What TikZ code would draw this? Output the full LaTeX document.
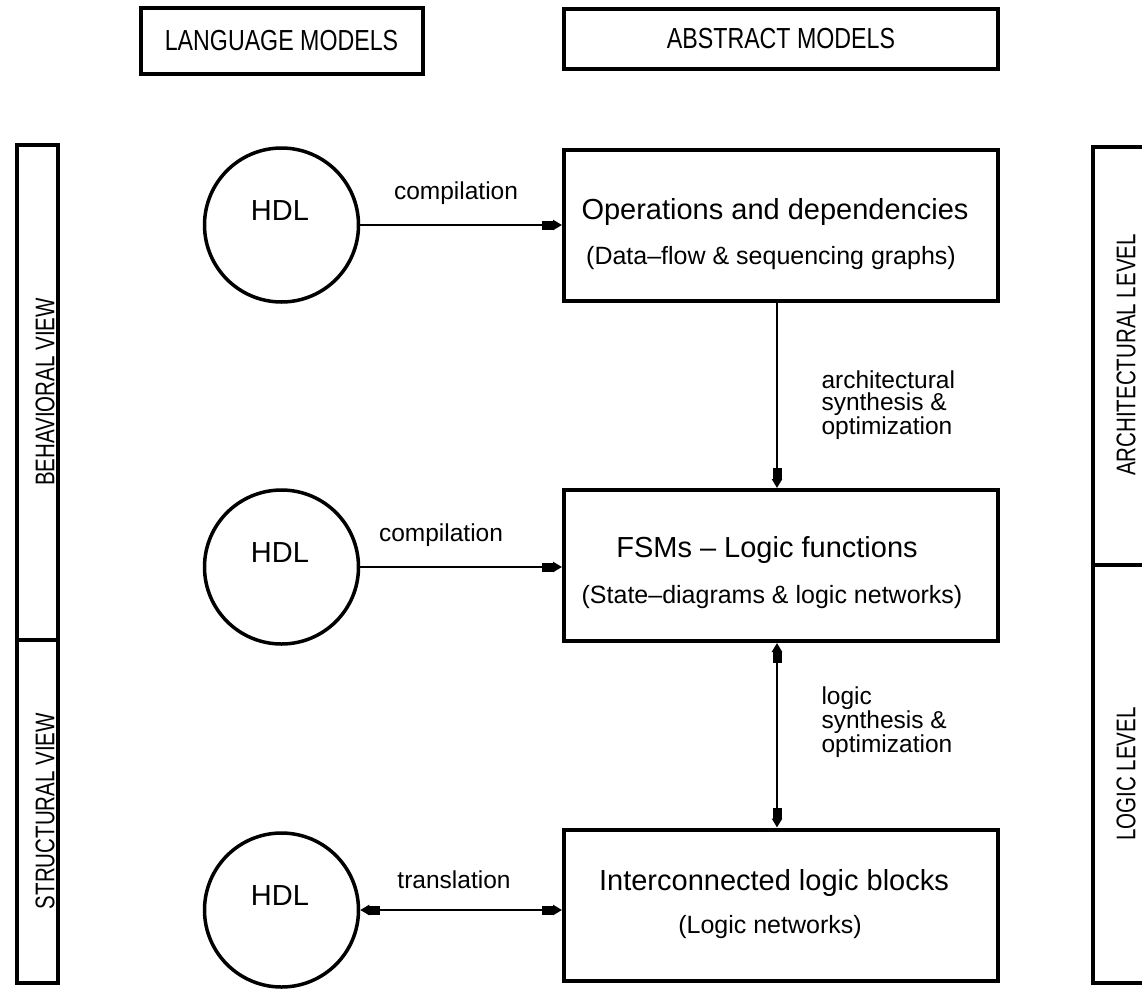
\documentclass[tikz,border=0pt]{standalone}
\usepackage{fontspec}
\setmainfont{Liberation Sans}
\newfontfamily\headfont[FakeStretch=0.8]{Liberation Sans}
\newfontfamily\bandfont[FakeStretch=0.76]{Liberation Sans}
\usetikzlibrary{arrows.meta}

\begin{document}
\begin{tikzpicture}[x=1pt,y=-1pt,
  boxline/.style={draw, line width=4pt},
  heading/.style={boxline, inner sep=0pt, font=\headfont\fontsize{29}{32}\selectfont},
  block/.style={boxline, minimum width=434pt, minimum height=151pt, inner sep=0pt},
  hdl/.style={circle, draw, line width=3.5pt, minimum size=154pt, inner sep=0pt},
  maintext/.style={font=\fontsize{29}{32}\selectfont},
  subtext/.style={font=\fontsize{25}{28}\selectfont},
  lbl/.style={font=\fontsize{24.5}{22.5}\selectfont, align=left},
  sidetext/.style={rotate=90, font=\bandfont\fontsize{27}{28}\selectfont},
  conn/.style={line width=2.3pt},
  blk/.tip={Rectangle[length=11pt,width=9pt] Triangle[length=9pt,width=10pt]},
  onehead/.style={conn, -{blk}},
  twoheads/.style={conn, {blk}-{blk}},
]
\useasboundingbox (0,0) rectangle (1142,988);
\clip (0,0) rectangle (1142,988);

% column headings
\node[heading, minimum width=282pt, minimum height=66pt] (lang) at (281.5,41) {LANGUAGE MODELS};
\node[heading, minimum width=434pt, minimum height=60pt] (abst) at (781,39) {ABSTRACT MODELS};

% side bands: views on the left, levels on the right
\draw[boxline] (17,145) rectangle (58,983);
\draw[line width=4pt] (17,640) -- (58,640);
\node[sidetext] (behav) at (45,392) {BEHAVIORAL VIEW};
\node[sidetext] (struct) at (45,811) {STRUCTURAL VIEW};

\draw[boxline] (1093,147) rectangle (1170,983);
\draw[line width=4pt] (1093,565) -- (1170,565);
\node[sidetext] (arch) at (1126,355) {ARCHITECTURAL LEVEL};
\node[sidetext] (logiclvl) at (1126,774) {LOGIC LEVEL};

% HDL descriptions
\node[hdl] (c1) at (281.5,225) {};
\node[hdl] (c2) at (281.5,567) {};
\node[hdl] (c3) at (281.5,910) {};
\node[maintext] (t1) at (280,211) {HDL};
\node[maintext] (t2) at (280,553) {HDL};
\node[maintext] (t3) at (280,896) {HDL};

% abstract model blocks
\node[block] (op)  at (781,225) {};
\node[block] (fsm) at (781,565.5) {};
\node[block] (ilb) at (781,905) {};
\node[maintext] (opa) at (775,212) {Operations and dependencies};
\node[subtext]  (opb) at (771,258) {(Data--flow \& sequencing graphs)};
\node[maintext] (fsma) at (767,550) {FSMs -- Logic functions};
\node[subtext]  (fsmb) at (772,597) {(State--diagrams \& logic networks)};
\node[maintext] (ilba) at (774,883) {Interconnected logic blocks};
\node[subtext]  (ilbb) at (770,927) {(Logic networks)};

% transformations between the models
\draw[onehead] (c1.east) -- (op.west);
\node[lbl] (comp1) at (456,193) {compilation};
\draw[onehead] (c2.east) -- (c2.east -| fsm.west);
\node[lbl] (comp2) at (441,535) {compilation};
\draw[twoheads] (c3.east) -- (c3.east -| ilb.west);
\node[lbl] (transl) at (454,880) {translation};

\draw[onehead] ([xshift=-4pt]op.south) -- ([xshift=-4pt]fsm.north);
\node[lbl, anchor=west] (archsyn) at (818,405) {architectural\\synthesis \&\\optimization};
\draw[twoheads] ([xshift=-4pt]fsm.south) -- ([xshift=-4pt]ilb.north);
\node[lbl, anchor=west] (logsyn) at (818,722) {logic\\synthesis \&\\optimization};
\end{tikzpicture}
\end{document}
